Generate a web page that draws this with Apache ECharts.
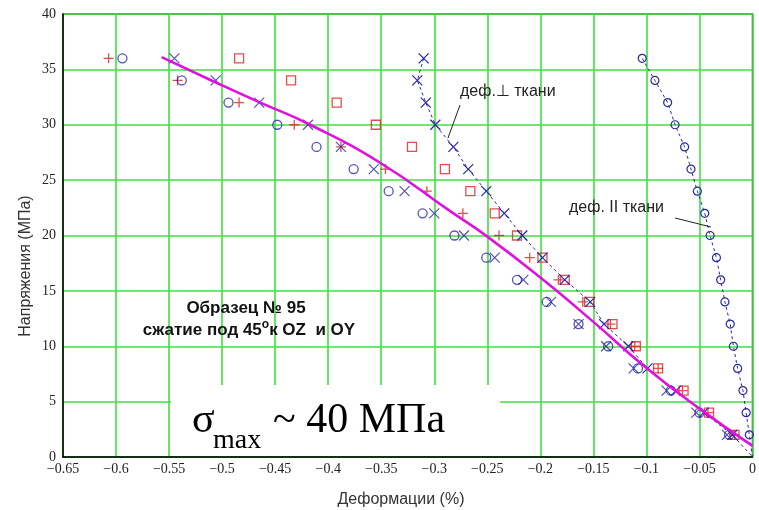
<!DOCTYPE html>
<html>
<head>
<meta charset="utf-8">
<script src="https://cdn.jsdelivr.net/npm/echarts@6/dist/echarts.min.js"></script>
<style>
html,body{margin:0;padding:0;background:#fff;}
#chart{width:759px;height:510px;}
</style>
</head>
<body>
<div id="chart"></div>
<script>
// Stress levels (MPa) for the measured points
var stressLevels = [36, 34, 32, 30, 28, 26, 24, 22, 20, 18, 16, 14, 12, 10, 8, 6, 4, 2];

// Strain (%) of each measured series at these stress levels
var strainRedPlus   = [-0.607, -0.542, -0.484, -0.432, -0.388, -0.346, -0.307, -0.273, -0.239, -0.210, -0.183, -0.160, -0.134, -0.111, -0.089, -0.066, -0.042, -0.017];
var strainRedSquare = [-0.484, -0.435, -0.392, -0.355, -0.321, -0.290, -0.266, -0.243, -0.222, -0.198, -0.177, -0.154, -0.132, -0.110, -0.089, -0.065, -0.041, -0.017];
var strainBlueCircle= [-0.594, -0.538, -0.494, -0.448, -0.411, -0.376, -0.343, -0.311, -0.281, -0.251, -0.222, -0.194, -0.164, -0.136, -0.108, -0.077, -0.050, -0.022];
var strainBlueCross = [-0.545, -0.506, -0.465, -0.419, -0.388, -0.357, -0.328, -0.300, -0.272, -0.243, -0.216, -0.190, -0.164, -0.138, -0.112, -0.081, -0.053, -0.024];
// "деф.⊥ ткани" (dashed, crosses)
var strainPerp      = [-0.310, -0.316, -0.308, -0.299, -0.282, -0.268, -0.251, -0.234, -0.217, -0.198, -0.177, -0.153, -0.140, -0.117, -0.099, -0.072, -0.046, -0.019];
// "деф. II ткани" (dashed, circles)
var strainPar       = [-0.104, -0.092, -0.080, -0.073, -0.064, -0.058, -0.052, -0.045, -0.040, -0.034, -0.030, -0.026, -0.021, -0.018, -0.014, -0.009, -0.006, -0.003];

// Fitted curve (magenta)
var fitStrain = [-0.557, -0.510, -0.464, -0.417, -0.350, -0.285, -0.250, -0.200, -0.150, -0.102, -0.052, 0];
var fitStress = [36.1, 34.0, 32.0, 30.0, 26.5, 22.2, 19.9, 16.2, 12.2, 8.2, 4.5, 1.0];

// Axis ticks
var xTicks = {min: -0.65, max: 0, interval: 0.05};
var yTicks = {min: 0, max: 40, interval: 5};

function pairs(strain) { return stressLevels.map(function (s, i) { return [strain[i], s]; }); }
function withOrigin(arr) { return arr.concat([{value: [0, 0], symbol: 'none'}]); }

var RED = '#dd2020', BLUE = '#2828a8', GREEN = '#3ee03e';
var PLUS = 'path://M0,5L10,5M5,0L5,10';
var CROSS = 'path://M0,0L10,10M10,0L0,10';
function hollow(c, w) { return {color: 'rgba(0,0,0,0)', borderColor: c, borderWidth: w || 1.2}; }

var chart = echarts.init(document.getElementById('chart'), null, {renderer: 'canvas'});
chart.setOption({
  animation: false,
  backgroundColor: '#fff',
  grid: {left: 63, right: 4, top: 14, bottom: 53, show: true, borderColor: '#444', borderWidth: 1.5, backgroundColor: 'transparent'},
  xAxis: {
    type: 'value', min: xTicks.min, max: xTicks.max, interval: xTicks.interval,
    axisLine: {show: true, onZero: false, lineStyle: {color: '#000', width: 1.5}},
    axisTick: {show: false},
    splitLine: {show: true, lineStyle: {color: GREEN, width: 1.6}},
    axisLabel: {
      color: '#222', fontFamily: 'Liberation Serif', fontSize: 14, margin: 5,
      formatter: function (v) { var t = String(+(+v).toFixed(2)); return t.replace('-', '\u2212'); }
    }
  },
  yAxis: {
    type: 'value', min: yTicks.min, max: yTicks.max, interval: yTicks.interval,
    axisLine: {show: true, onZero: false, lineStyle: {color: '#000', width: 1.5}},
    axisTick: {show: false},
    splitLine: {show: true, lineStyle: {color: GREEN, width: 1.6}},
    axisLabel: {color: '#222', fontFamily: 'Liberation Serif', fontSize: 14, margin: 7}
  },
  series: [
    {type: 'scatter', name: 'plus', data: pairs(strainRedPlus), symbol: PLUS, symbolSize: 10, itemStyle: hollow(RED, 1.3), z: 3},
    {type: 'scatter', name: 'square', data: pairs(strainRedSquare), symbol: 'rect', symbolSize: 9, itemStyle: hollow(RED, 1.3), z: 3},
    {type: 'scatter', name: 'circle', data: pairs(strainBlueCircle), symbol: 'circle', symbolSize: 9, itemStyle: hollow(BLUE, 1.3), z: 3},
    {type: 'scatter', name: 'cross', data: pairs(strainBlueCross), symbol: CROSS, symbolSize: 10, itemStyle: hollow(BLUE, 1.2), z: 3},
    {type: 'line', name: 'perp', data: withOrigin(pairs(strainPerp)), symbol: CROSS, symbolSize: 10, showAllSymbol: true,
      itemStyle: hollow(BLUE, 1.2), lineStyle: {color: BLUE, width: 1, type: [3, 3]}, z: 3},
    {type: 'line', name: 'par', data: withOrigin(pairs(strainPar)), symbol: 'circle', symbolSize: 8, showAllSymbol: true,
      itemStyle: hollow(BLUE, 1.2), lineStyle: {color: BLUE, width: 1, type: [3, 3]}, z: 3},
    {type: 'line', name: 'fit', data: fitStrain.map(function (x, i) { return [x, fitStress[i]]; }), symbol: 'none', smooth: 0.5,
      lineStyle: {color: '#e010e0', width: 2.6}, z: 4}
  ],
  graphic: [
    {type: 'rect', z: 1, shape: {x: 171, y: 385, width: 329, height: 71}, style: {fill: '#fff'}},
    {type: 'text', z: 5, x: 192, y: 421, style: {text: '\u03c3', font: '42px "Liberation Serif"', fill: '#000', textAlign: 'left', textVerticalAlign: 'middle'}},
    {type: 'text', z: 5, x: 213, y: 441, style: {text: 'max', font: '28px "Liberation Serif"', fill: '#000', textAlign: 'left', textVerticalAlign: 'middle'}},
    {type: 'text', z: 5, x: 273, y: 421, style: {text: '~ 40 \u041c\u041f\u0430', font: '42px "Liberation Serif"', fill: '#000', textAlign: 'left', textVerticalAlign: 'middle'}},
    {type: 'text', z: 5, x: 246, y: 308, style: {text: '\u041e\u0431\u0440\u0430\u0437\u0435\u0446 \u2116 95', font: 'bold 17px "Liberation Sans"', fill: '#111', textAlign: 'center', textVerticalAlign: 'middle'}},
    {type: 'text', z: 5, x: 249, y: 330, style: {
      text: '{n|\u0441\u0436\u0430\u0442\u0438\u0435 \u043f\u043e\u0434 45}{s|o}{n|\u043a OZ  \u0438 OY}',
      textAlign: 'center', textVerticalAlign: 'middle', fill: '#111',
      rich: {n: {font: 'bold 17px "Liberation Sans"', lineHeight: 22, verticalAlign: 'middle', fill: '#111'},
             s: {font: 'bold 12px "Liberation Sans"', lineHeight: 22, verticalAlign: 'top', fill: '#111'}}
    }},
    {type: 'text', z: 5, x: 460, y: 92, style: {text: '\u0434\u0435\u0444.\u22a5 \u0442\u043a\u0430\u043d\u0438', font: '16px "Liberation Sans"', fill: '#222', textAlign: 'left', textVerticalAlign: 'middle'}},
    {type: 'line', z: 5, shape: {x1: 460, y1: 105, x2: 448, y2: 138}, style: {stroke: '#222', lineWidth: 1}},
    {type: 'text', z: 5, x: 569, y: 208, style: {text: '\u0434\u0435\u0444. II \u0442\u043a\u0430\u043d\u0438', font: '16px "Liberation Sans"', fill: '#222', textAlign: 'left', textVerticalAlign: 'middle'}},
    {type: 'line', z: 5, shape: {x1: 675, y1: 218, x2: 711, y2: 227}, style: {stroke: '#222', lineWidth: 1}},
    {type: 'text', z: 5, x: 401, y: 500, style: {text: '\u0414\u0435\u0444\u043e\u0440\u043c\u0430\u0446\u0438\u0438 (%)', font: '16px "Liberation Sans"', fill: '#333', textAlign: 'center', textVerticalAlign: 'middle'}},
    {type: 'text', z: 5, x: 26, y: 266, rotation: Math.PI / 2, style: {text: '\u041d\u0430\u043f\u0440\u044f\u0436\u0435\u043d\u0438\u044f (\u041c\u041f\u0430)', font: '16px "Liberation Sans"', fill: '#333', textAlign: 'center', textVerticalAlign: 'middle'}}
  ]
});
</script>
</body>
</html>
